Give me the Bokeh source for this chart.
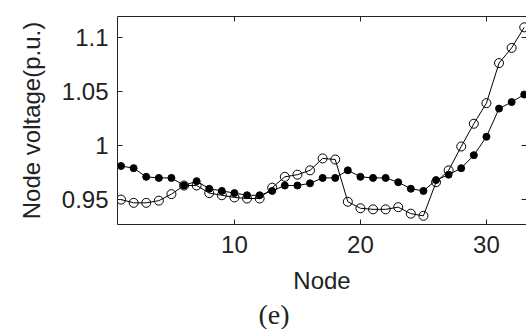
from bokeh.plotting import figure
from bokeh.models import Range1d, FixedTicker, LinearAxis, Title, ColumnDataSource
from bokeh.embed import file_html
from bokeh.resources import INLINE

nodes = list(range(1, 34))
v_filled = [0.981, 0.979, 0.971, 0.970, 0.970, 0.963, 0.967, 0.960, 0.958, 0.956,
            0.954, 0.954, 0.958, 0.963, 0.963, 0.965, 0.970, 0.970, 0.977, 0.971,
            0.970, 0.970, 0.966, 0.960, 0.958, 0.968, 0.973, 0.979, 0.991, 1.008,
            1.034, 1.040, 1.047]
v_hollow = [0.950, 0.947, 0.947, 0.949, 0.955, 0.963, 0.963, 0.956, 0.954, 0.952,
            0.951, 0.951, 0.961, 0.971, 0.973, 0.977, 0.988, 0.987, 0.948, 0.942,
            0.941, 0.941, 0.943, 0.937, 0.935, 0.966, 0.977, 0.999, 1.020, 1.039,
            1.076, 1.090, 1.109]
x_ticks = [10, 20, 30]
y_ticks = [0.95, 1.0, 1.05, 1.1]
y_tick_labels = {0.95: "0.95", 1.0: "1", 1.05: "1.05", 1.1: "1.1"}

src = ColumnDataSource(dict(node=nodes, vf=v_filled, vh=v_hollow))

p = figure(width=526, height=329, output_backend="svg", toolbar_location=None,
           x_range=Range1d(0.72, 33.18), y_range=Range1d(0.927, 1.119),
           x_axis_location=None, y_axis_location=None,
           min_border_left=117, min_border_top=16, min_border_right=0, min_border_bottom=0,
           background_fill_color="white", border_fill_color="white")
p.outline_line_color = None
p.grid.grid_line_color = None

FONT = "Liberation Sans"
TXT = "#222222"

def style_axis(ax, labels=True):
    ax.axis_line_color = "#222222"
    ax.axis_line_width = 1
    ax.major_tick_line_color = "#222222"
    ax.major_tick_in = 5
    ax.major_tick_out = 0
    ax.minor_tick_line_color = None
    if labels:
        ax.major_label_text_font = FONT
        ax.major_label_text_font_size = "24px"
        ax.major_label_text_color = TXT
    else:
        ax.major_label_text_font_size = "1px"
        ax.major_label_text_color = None
        ax.major_label_standoff = 0

left = LinearAxis(ticker=FixedTicker(ticks=y_ticks), major_label_overrides=y_tick_labels,
                  axis_label="Node voltage(p.u.)")
style_axis(left)
left.major_label_standoff = 9
left.axis_label_text_font = FONT
left.axis_label_text_font_size = "24px"
left.axis_label_text_font_style = "normal"
left.axis_label_text_color = TXT
left.axis_label_standoff = 14
p.add_layout(left, "left")

bottom = LinearAxis(ticker=FixedTicker(ticks=x_ticks), axis_label="Node")
style_axis(bottom)
bottom.major_label_standoff = 11
bottom.axis_label_text_font = FONT
bottom.axis_label_text_font_size = "24px"
bottom.axis_label_text_font_style = "normal"
bottom.axis_label_text_color = TXT
bottom.axis_label_standoff = 11
p.add_layout(bottom, "below")

top = LinearAxis(ticker=FixedTicker(ticks=x_ticks))
style_axis(top, labels=False)
p.add_layout(top, "above")

right = LinearAxis(ticker=FixedTicker(ticks=y_ticks))
style_axis(right, labels=False)
right.axis_line_color = None
p.add_layout(right, "right")

cap = Title(text="(e)", align="left", offset=141, text_font="Liberation Serif",
            text_font_size="28px", text_font_style="normal", text_color=TXT, standoff=0)
p.add_layout(cap, "below")

p.line("node", "vf", source=src, line_color="black", line_width=1)
p.scatter("node", "vf", source=src, size=7, marker="circle", fill_color="black", line_color="black")
p.line("node", "vh", source=src, line_color="black", line_width=1)
p.scatter("node", "vh", source=src, size=9, marker="circle", fill_color=None, line_color="black", line_width=1)

open("out.html", "w").write(file_html(p, INLINE))
